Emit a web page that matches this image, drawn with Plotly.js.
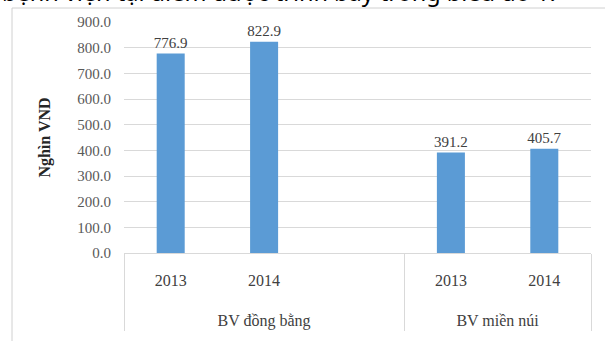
<!DOCTYPE html>
<html>
<head>
<meta charset="utf-8">
<script src="https://cdn.plot.ly/plotly-3.0.1.min.js"></script>
<style>html,body{margin:0;padding:0;background:#fff;}#chart{width:605px;height:341px;}</style>
</head>
<body>
<div id="chart"></div>
<script>
const groups = ["BV đồng bằng", "BV đồng bằng", "BV đồng bằng", "BV miền núi", "BV miền núi"];
const years = ["2013", "2014", " ", "2013", "2014"];
const values = [776.9, 822.9, null, 391.2, 405.7];
const yTicks = [0, 100, 200, 300, 400, 500, 600, 700, 800, 900];
const yTitle = "Nghìn VND";
const topText = "bệnh viện tại điểm được trình bày trong biểu đồ 1.";

const W = 605, H = 341, L = 124, R = 14, T = 22, B = 88;
const pw = W - L - R, ph = H - T - B;
const px = v => (v - L) / pw;
const py = v => (H - B - v) / ph;

const serif = "Times New Roman";

const trace = {
  type: "bar",
  x: [groups, years.map(y => y + "<br>\u00a0<br><sup>\u00a0</sup>")],
  y: values,
  marker: {color: "#5b9bd5"},
  text: values.map(v => v == null ? "" : v.toFixed(1)),
  textposition: "outside",
  constraintext: "none",
  cliponaxis: false,
  textfont: {family: serif, size: 15, color: "#404040"},
  hoverinfo: "none"
};

const layout = {
  width: W, height: H,
  margin: {l: L, r: R, t: T, b: B},
  paper_bgcolor: "#fff",
  plot_bgcolor: "#fff",
  showlegend: false,
  bargap: 0.7,
  font: {family: serif, size: 12, color: "#595959"},
  xaxis: {
    type: "multicategory",
    showgrid: false,
    showline: true,
    linecolor: "#d9d9d9",
    linewidth: 1,
    showdividers: true,
    dividercolor: "#d9d9d9",
    dividerwidth: 1,
    ticklabelstandoff: 13,
    tickfont: {family: serif, size: 16, color: "#404040"},
    ticks: ""
  },
  yaxis: {
    range: [0, 900],
    tickvals: yTicks,
    ticktext: yTicks.map(v => v.toFixed(1)),
    showgrid: true,
    gridcolor: "#d9d9d9",
    gridwidth: 1,
    zeroline: false,
    showline: false,
    ticks: "",
    ticklabelstandoff: 12,
    tickfont: {family: serif, size: 15, color: "#595959"},
    title: {text: yTitle, font: {family: serif, size: 16, color: "#262626", weight: "bold"}, standoff: 22}
  },
  shapes: [
    {type: "rect", xref: "paper", yref: "paper",
     x0: px(12), x1: px(620), y0: py(360), y1: py(8),
     line: {color: "#d0d0d0", width: 1}, fillcolor: "rgba(0,0,0,0)", layer: "below"}
  ],
  annotations: [
    {xref: "paper", yref: "paper", x: px(0), y: py(10), xanchor: "left", yanchor: "bottom",
     text: topText, showarrow: false, font: {family: "Noto Sans, sans-serif", size: 23.5, color: "#000"}}
  ]
};

Plotly.newPlot("chart", [trace], layout, {displayModeBar: false, staticPlot: true});
</script>
</body>
</html>
